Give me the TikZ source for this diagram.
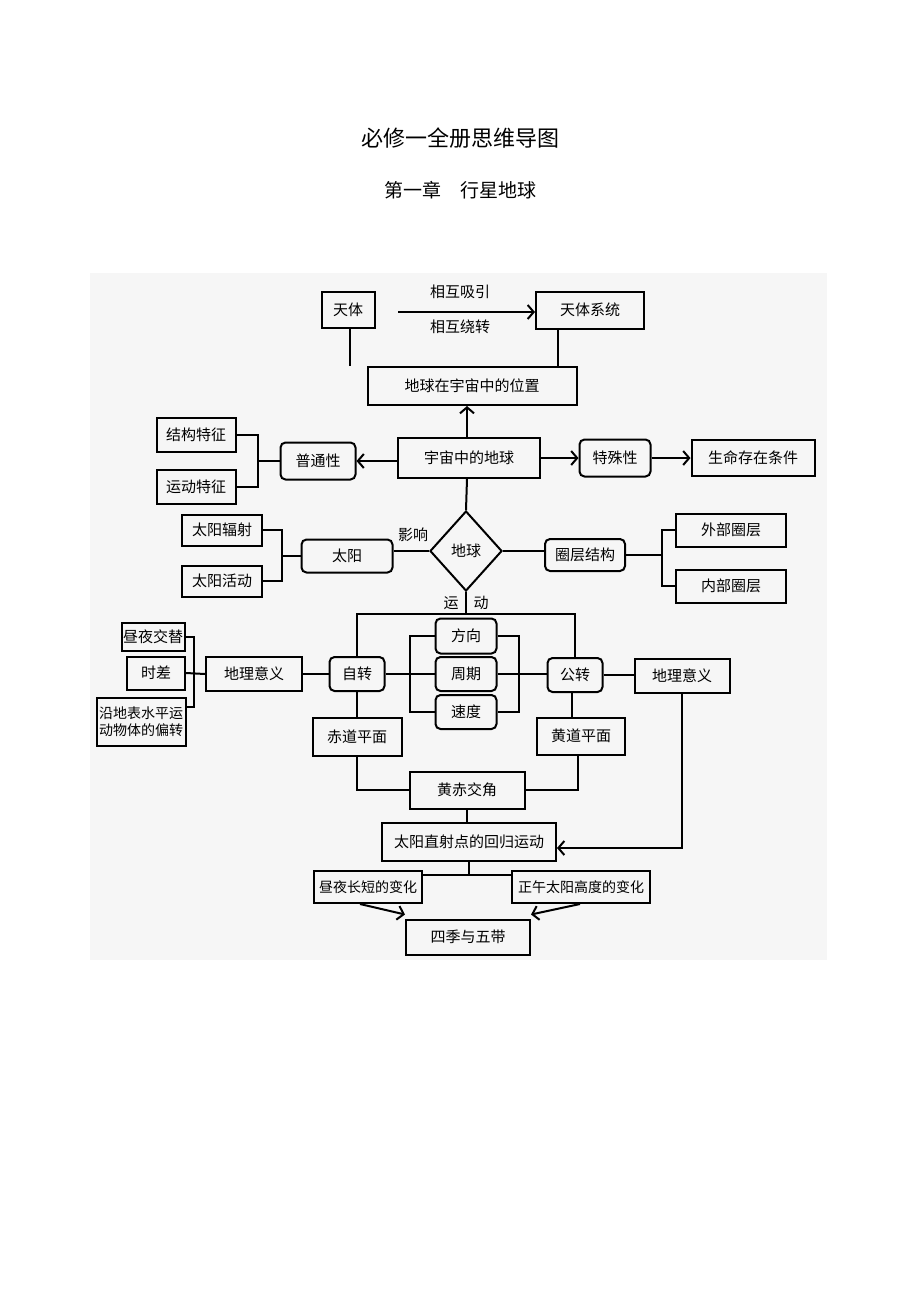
\documentclass[tikz,border=0pt]{standalone}
\usepackage{fontspec}
\setmainfont{Noto Sans CJK SC}
\usetikzlibrary{shapes.geometric,arrows.meta}
\begin{document}
\begin{tikzpicture}[x=1pt, y=-1pt, line width=2pt,
		box/.style={draw, inner sep=0pt, font=\fontsize{15}{17}\selectfont},
		rbox/.style={box, rounded corners=5pt},
		lbl/.style={inner sep=0pt, font=\fontsize{15}{17}\selectfont},
		arr/.style={-{Straight Barb[length=6pt,width=14pt]}}]
		\useasboundingbox (0,0) rectangle (920,1302);
		\fill[gray!7] (90,273) rectangle (827,960);

		\node[lbl, font=\fontsize{22}{24}\selectfont] (title) at (460,138) {必修一全册思维导图};
		\node[lbl, font=\fontsize{19}{21}\selectfont] (chap) at (460,190) {第一章\quad 行星地球};

		% top
		\node[box, minimum width=53pt, minimum height=36pt] (tianti) at (348,310) {天体};
		\node[box, minimum width=108pt, minimum height=37pt] (xitong) at (590,310) {天体系统};
		\node[box, minimum width=209pt, minimum height=38pt] (weizhi) at (472,386) {地球在宇宙中的位置};
		\node[box, minimum width=142pt, minimum height=40pt] (yuzhou) at (469,458) {宇宙中的地球};
		\node[lbl] (xiyin) at (460,292) {相互吸引};
		\node[lbl] (raozhuan) at (460,327) {相互绕转};
		\coordinate (a0) at (398,312);
		\draw[arr] (a0) -- (a0 -| xitong.west);
		\draw ([xshift=2pt]tianti.south) -- ([xshift=2pt]tianti.south |- weizhi.north);
		\draw ([xshift=-32pt]xitong.south) -- ([xshift=-32pt]xitong.south |- weizhi.north);
		\draw[arr] ([xshift=-2pt]yuzhou.north) -- ([xshift=-2pt]yuzhou.north |- weizhi.south);

		\node[rbox, minimum width=75pt, minimum height=37pt] (putong) at (318,461) {普通性};
		\node[box, minimum width=79pt, minimum height=34pt] (jiegou) at (196,435) {结构特征};
		\node[box, minimum width=79pt, minimum height=34pt] (yundong) at (196,487) {运动特征};
		\node[rbox, minimum width=71pt, minimum height=37pt] (teshu) at (615,458) {特殊性};
		\node[box, minimum width=123pt, minimum height=36pt] (shengming) at (753,458) {生命存在条件};
		\coordinate (p1) at (258,461);
		\draw[arr] (yuzhou.west |- putong) -- (putong.east);
		\draw (jiegou.east) -| (p1) -- (putong.west);
		\draw (yundong.east) -| (p1);
		\draw[arr] (yuzhou.east) -- (teshu.west);
		\draw[arr] (teshu.east) -- (shengming.west);

		% earth
		\node[draw, diamond, aspect=0.9, minimum width=72pt, minimum height=80pt, inner sep=0pt,
			font=\fontsize{15}{17}\selectfont] (diqiu) at (466,551) {地球};
		\draw ([xshift=-2pt]yuzhou.south) -- (diqiu.north);
		\node[rbox, minimum width=91pt, minimum height=33pt] (taiyang) at (347,556) {太阳};
		\node[lbl] (yingxiang) at (413,535) {影响};
		\node[box, minimum width=80pt, minimum height=31pt] (fushe) at (222,530) {太阳辐射};
		\node[box, minimum width=80pt, minimum height=31pt] (huodong) at (222,581) {太阳活动};
		\coordinate (t0) at (282,556);
		\draw (diqiu.west) -- (taiyang.east |- diqiu.west);
		\draw (fushe.east) -| (t0) -- (taiyang.west);
		\draw (huodong.east) -| (t0);
		\node[rbox, minimum width=80pt, minimum height=32pt] (quanceng) at (585,555) {圈层结构};
		\node[box, minimum width=110pt, minimum height=33pt] (waibu) at (731,530) {外部圈层};
		\node[box, minimum width=110pt, minimum height=33pt] (neibu) at (731,586) {内部圈层};
		\coordinate (q0) at (662,555);
		\draw (diqiu.east) -- (quanceng.west |- diqiu.east);
		\draw (quanceng.east) -- (q0);
		\draw (waibu.west) -| (q0) |- (neibu.west);

		% motion
		\node[lbl] (yd) at (466,603) {运\quad 动};
		\node[rbox, minimum width=55pt, minimum height=34pt] (zizhuan) at (357,674) {自转};
		\node[rbox, minimum width=55pt, minimum height=34pt] (gongzhuan) at (575,675) {公转};
		\coordinate (m0) at (466,614);
		\draw (diqiu.south) -- (m0);
		\draw (zizhuan.north) |- (m0) -| (gongzhuan.north);
		\node[rbox, minimum width=61pt, minimum height=35pt] (fangxiang) at (466,636) {方向};
		\node[rbox, minimum width=61pt, minimum height=34pt] (zhouqi) at (466,674) {周期};
		\node[rbox, minimum width=61pt, minimum height=34pt] (sudu) at (466,712) {速度};
		\draw (zizhuan.east) -- (zhouqi.west);
		\draw (zhouqi.east) -- (gongzhuan.west |- zhouqi.east);
		\draw (fangxiang.west) -| (410,712) -- (sudu.west);
		\draw (fangxiang.east) -| (519,712) -- (sudu.east);

		\node[box, minimum width=96pt, minimum height=34pt] (yiyi1) at (254,674) {地理意义};
		\node[box, minimum width=95pt, minimum height=34pt] (yiyi2) at (682,676) {地理意义};
		\draw (yiyi1.east) -- (zizhuan.west);
		\draw (gongzhuan.east) -- (yiyi2.west |- gongzhuan.east);
		\node[box, minimum width=63pt, minimum height=28pt] (jiaoti) at (153,637) {昼夜交替};
		\node[box, minimum width=58pt, minimum height=33pt] (shicha) at (156,673) {时差};
		\node[box, minimum width=89pt, minimum height=48pt, align=center,
			font=\fontsize{14}{17}\selectfont] (pianzhuan) at (141,722) {沿地表水平运\\动物体的偏转};
		\coordinate (j0) at (194,707);
		\draw (jiaoti.east) -| (j0) -- (pianzhuan.east |- j0);
		\draw (shicha.east) -- (yiyi1.west);

		% planes
		\node[box, minimum width=89pt, minimum height=38pt] (chidao) at (357,737) {赤道平面};
		\node[box, minimum width=88pt, minimum height=37pt] (huangdao) at (581,736) {黄道平面};
		\node[box, minimum width=115pt, minimum height=37pt] (jiaojiao) at (467,790) {黄赤交角};
		\draw (zizhuan.south) -- (chidao.north);
		\draw ([xshift=-3pt]gongzhuan.south) -- ([xshift=-3pt]gongzhuan.south |- huangdao.north);
		\draw (chidao.south) |- (jiaojiao.west);
		\draw ([xshift=-3pt]huangdao.south) |- (jiaojiao.east);
		\node[box, minimum width=174pt, minimum height=38pt] (huigui) at (469,842) {太阳直射点的回归运动};
		\draw (jiaojiao.south) -- (huigui.north -| jiaojiao.south);
		\draw[arr] (yiyi2.south) |- ([yshift=-6pt]huigui.east);

		\node[box, minimum width=108pt, minimum height=32pt, font=\fontsize{14}{16}\selectfont] (zhouye) at (368,887) {昼夜长短的变化};
		\node[box, minimum width=138pt, minimum height=32pt, font=\fontsize{14}{16}\selectfont] (zhengwu) at (581,887) {正午太阳高度的变化};
		\coordinate (h0) at (469,875);
		\draw (huigui.south) -- (h0);
		\draw (zhouye.east |- h0) -- (zhengwu.west |- h0);
		\node[box, minimum width=124pt, minimum height=35pt] (siji) at (468,937) {四季与五带};
		\draw[arr] ([xshift=-8pt]zhouye.south) -- ([yshift=4pt]siji.north west);
		\draw[arr] ([xshift=-1pt]zhengwu.south) -- ([yshift=4pt]siji.north east);
	\end{tikzpicture}
\end{document}
